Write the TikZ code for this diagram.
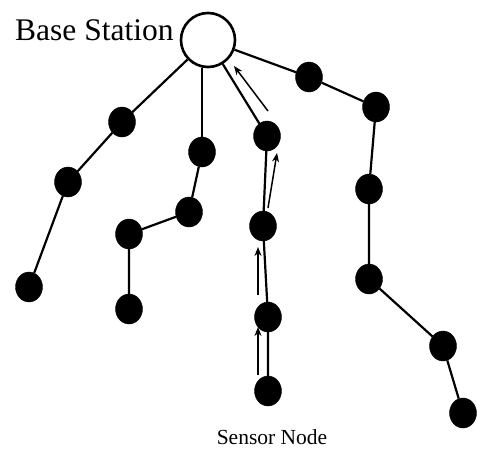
\documentclass[tikz,border=0pt]{standalone}
\usepackage{fontspec}
\setmainfont{Liberation Serif}
\usetikzlibrary{shapes.geometric,arrows.meta}
\begin{document}
\begin{tikzpicture}[x=1pt,y=-1pt,
  sensor/.style={ellipse,fill=black,draw=black,minimum width=27pt,minimum height=30pt,inner sep=0pt},
  link/.style={line width=2.2pt},
  flow/.style={line width=1.5pt,-{Stealth[length=9pt,width=7pt]}}]
\useasboundingbox (0,0) rectangle (477,450);
\node[circle,draw,line width=2.6pt,minimum size=54pt,inner sep=0pt,fill=white] (bs) at (208,40) {};
\node[anchor=base west,font=\fontsize{31.5}{31.5}\selectfont,inner sep=0pt] (bst) at (15,40) {Base Station};
% branch 1
\node[sensor] (a1) at (122,122) {};
\node[sensor] (a2) at (68,182) {};
\node[sensor] (a3) at (29,287) {};
% branch 2
\node[sensor] (b1) at (202,152) {};
\node[sensor] (b2) at (189,212) {};
\node[sensor] (b3) at (129,234) {};
\node[sensor] (b4) at (129,309) {};
% branch 3
\node[sensor] (c1) at (267,136) {};
\node[sensor] (c2) at (263,226) {};
\node[sensor] (c3) at (268,317) {};
\node[sensor] (c4) at (268,391) {};
% branch 4
\node[sensor] (d1) at (309,77) {};
\node[sensor] (d2) at (376,107) {};
\node[sensor] (d3) at (369,189) {};
\node[sensor] (d4) at (369,279) {};
\node[sensor] (d5) at (443,346) {};
\node[sensor] (d6) at (463,413) {};
\node[anchor=base,font=\fontsize{21.5}{21.5}\selectfont,inner sep=0pt] (lbl) at (272,444) {Sensor Node};
% links
\draw[link] (bs) -- (a1) -- (a2) -- (a3);
\draw[link] (b1.center |- bs.south) -- (b1);
\draw[link] (b1) -- (b2) -- (b3) -- (b4);
\draw[link] (bs) -- (c1) -- (c2) -- (c3) -- (c4);
\draw[link] (bs) -- (d1) -- (d2) -- (d3) -- (d4) -- (d5) -- (d6);
% data flow arrows
\coordinate (f1s) at (268,111); \coordinate (f1e) at (234,66);
\coordinate (f2s) at (268,208); \coordinate (f2e) at (277,153);
\coordinate (f3s) at (258,295); \coordinate (f3e) at (258,247);
\coordinate (f4s) at (258,375); \coordinate (f4e) at (258,327);
\draw[flow] (f1s) -- (f1e);
\draw[flow] (f2s) -- (f2e);
\draw[flow] (f3s) -- (f3e);
\draw[flow] (f4s) -- (f4e);
\end{tikzpicture}
\end{document}
